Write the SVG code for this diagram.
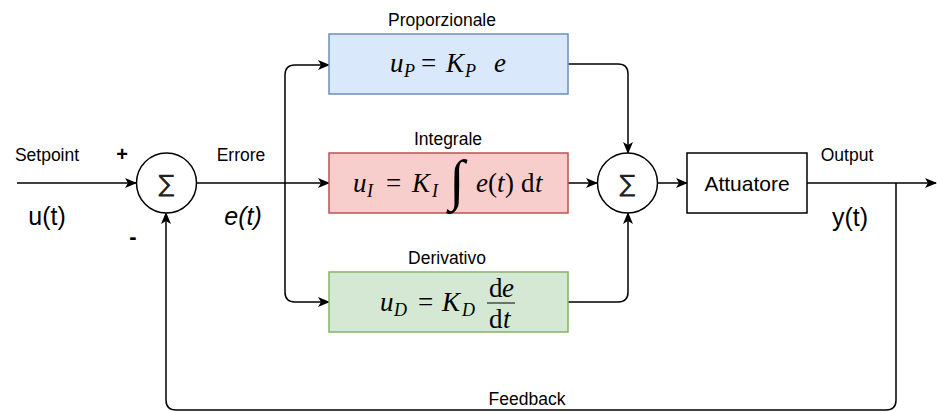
<svg xmlns="http://www.w3.org/2000/svg" width="937" height="412" viewBox="0 0 937 412">
  <defs>
    <marker id="arrow" viewBox="0 0 12 10" refX="11" refY="5" markerWidth="12" markerHeight="10" markerUnits="userSpaceOnUse" orient="auto">
      <path d="M0,0 L12,5 L0,10 L3,5 Z" fill="#000"/>
    </marker>
    <style>
      .lbl { font-family: "Liberation Sans", Arial, sans-serif; font-size: 17.5px; fill: #000; text-anchor: middle; }
      .sig { font-family: "Liberation Sans", Arial, sans-serif; font-size: 25px; fill: #000; text-anchor: middle; }
      .blk { font-family: "Liberation Sans", Arial, sans-serif; font-size: 21px; fill: #000; text-anchor: middle; }
      .m { font-family: "Liberation Serif", "Times New Roman", serif; font-size: 27px; fill: #000; }
      .mi { font-family: "Liberation Serif", "Times New Roman", serif; font-size: 27px; font-style: italic; fill: #000; }
      .ms { font-family: "Liberation Serif", "Times New Roman", serif; font-size: 18px; font-style: italic; fill: #000; }
      .wire { fill: none; stroke: #000; stroke-width: 1.5; }
      .sum { fill: #fff; stroke: #000; stroke-width: 1.5; }
      .sigma { font-family: "DejaVu Sans", sans-serif; font-size: 24px; fill: #222; text-anchor: middle; }
    </style>
  </defs>
  <rect width="937" height="412" fill="#fff"/>

  <!-- connectors -->
  <g id="connectors">
    <path class="wire" d="M17,183 H136" marker-end="url(#arrow)"/>
    <path class="wire" d="M197,183 H329" marker-end="url(#arrow)"/>
    <path class="wire" d="M285,183 V75 Q285,65 295,65 H329" marker-end="url(#arrow)"/>
    <path class="wire" d="M285,183 V292 Q285,302 295,302 H329" marker-end="url(#arrow)"/>
    <path class="wire" d="M568,64 H618 Q628,64 628,74 V153" marker-end="url(#arrow)"/>
    <path class="wire" d="M568,183 H597" marker-end="url(#arrow)"/>
    <path class="wire" d="M568,302 H618 Q628,302 628,292 V213" marker-end="url(#arrow)"/>
    <path class="wire" d="M658,183 H687" marker-end="url(#arrow)"/>
    <path class="wire" d="M807,183 H936" marker-end="url(#arrow)"/>
    <path class="wire" d="M896,183 V400 Q896,410 886,410 H176 Q166,410 166,400 V213" marker-end="url(#arrow)"/>
  </g>

  <!-- input summing junction -->
  <g id="sum-error">
    <circle class="sum" cx="166.5" cy="183" r="30"/>
    <text class="sigma" x="166.5" y="192">∑</text>
  </g>

  <!-- proportional block -->
  <g id="block-p">
    <rect x="329" y="34" width="239" height="60" fill="#dae8fc" stroke="#6c8ebf" stroke-width="1.5"/>
    <text class="lbl" x="442" y="26">Proporzionale</text>
    <text class="mi" x="390" y="72">u</text>
    <text class="ms" x="404" y="77">P</text>
    <text class="m" x="421" y="72">=</text>
    <text class="mi" x="446" y="72">K</text>
    <text class="ms" x="465" y="77">P</text>
    <text class="mi" x="494" y="72">e</text>
  </g>

  <!-- integral block -->
  <g id="block-i">
    <rect x="329" y="153" width="239" height="60" fill="#f8cecc" stroke="#b85450" stroke-width="1.5"/>
    <text class="lbl" x="448" y="145">Integrale</text>
    <text class="mi" x="353" y="192">u</text>
    <text class="ms" x="367" y="197">I</text>
    <text class="m" x="386" y="192">=</text>
    <text class="mi" x="412" y="192">K</text>
    <text class="ms" x="432" y="197">I</text>
    <text class="mi" x="449" y="199" style="font-size:56px">∫</text>
    <text class="mi" x="476" y="192">e</text>
    <text class="m" x="488" y="192">(</text>
    <text class="mi" x="497" y="192">t</text>
    <text class="m" x="505" y="192">)</text>
    <text class="m" x="521" y="192">d</text>
    <text class="mi" x="535" y="192">t</text>
  </g>

  <!-- derivative block -->
  <g id="block-d">
    <rect x="329" y="272" width="239" height="60" fill="#d5e8d4" stroke="#82b366" stroke-width="1.5"/>
    <text class="lbl" x="447" y="264">Derivativo</text>
    <text class="mi" x="380" y="311">u</text>
    <text class="ms" x="394" y="316">D</text>
    <text class="m" x="418" y="311">=</text>
    <text class="mi" x="442" y="311">K</text>
    <text class="ms" x="462" y="316">D</text>
    <text class="m" x="489" y="297">d</text>
    <text class="mi" x="502" y="297">e</text>
    <line x1="487" y1="303" x2="515" y2="303" stroke="#000" stroke-width="1"/>
    <text class="m" x="489" y="328">d</text>
    <text class="mi" x="503" y="328">t</text>
  </g>

  <!-- output summing junction -->
  <g id="sum-out">
    <circle class="sum" cx="627.5" cy="183" r="30"/>
    <text class="sigma" x="627.5" y="192">∑</text>
  </g>

  <!-- actuator -->
  <g id="attuatore">
    <rect x="687" y="153" width="120" height="60" fill="#fff" stroke="#000" stroke-width="1.5"/>
    <text class="blk" x="747" y="191">Attuatore</text>
  </g>

  <!-- signal labels -->
  <g id="labels">
    <text class="lbl" x="47" y="161">Setpoint</text>
    <text class="lbl" x="122" y="161" style="font-size:20px;font-weight:bold">+</text>
    <text class="lbl" x="133" y="244" style="font-size:22px;font-weight:bold">-</text>
    <text class="sig" x="47" y="225">u(t)</text>
    <text class="lbl" x="241" y="161">Errore</text>
    <text class="sig" x="243" y="225" style="font-style:italic">e(t)</text>
    <text class="lbl" x="847" y="161">Output</text>
    <text class="sig" x="850" y="226">y(t)</text>
    <text class="lbl" x="527" y="405">Feedback</text>
  </g>
</svg>
